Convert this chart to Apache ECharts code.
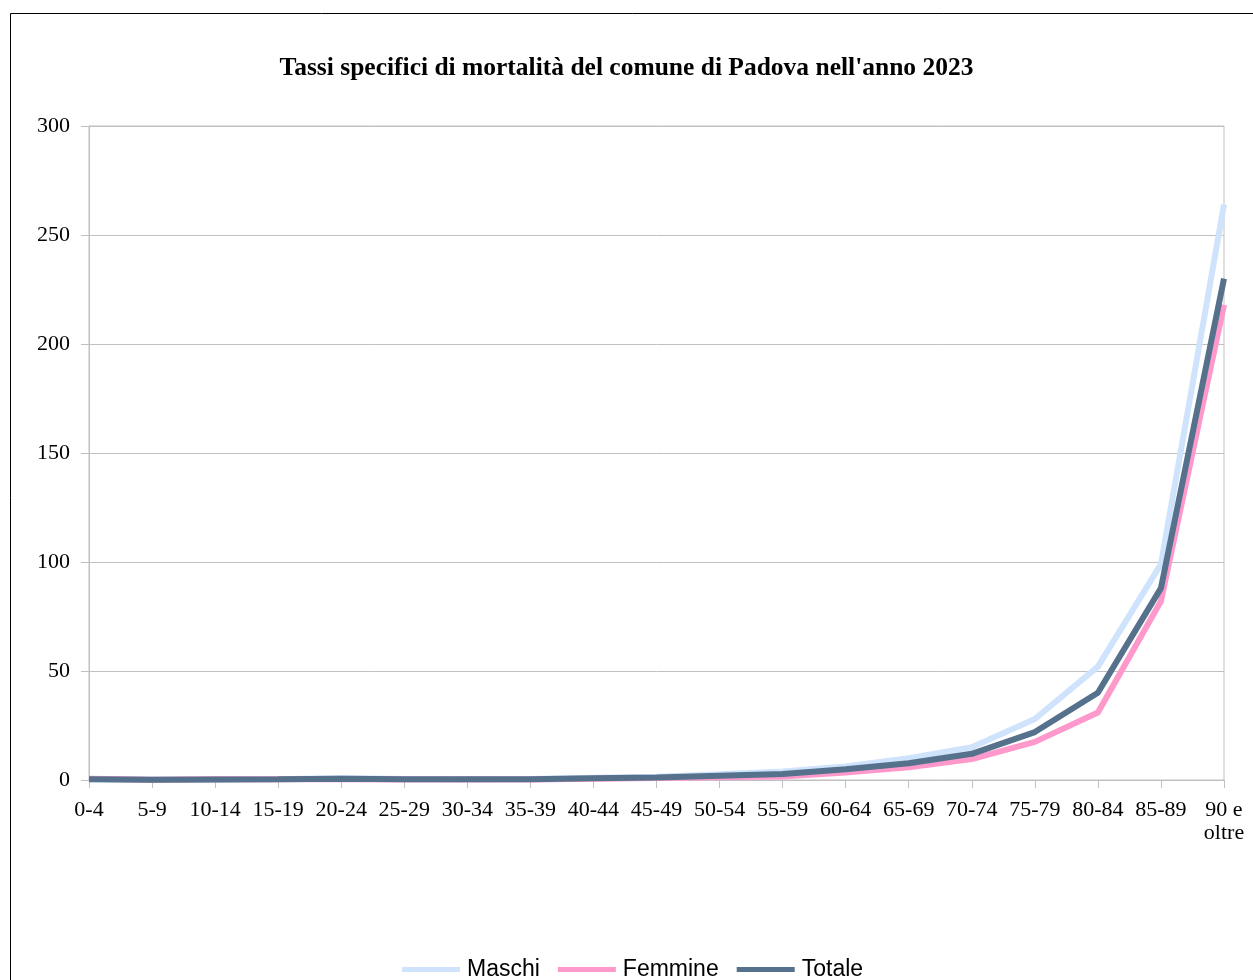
<!DOCTYPE html>
<html>
<head>
<meta charset="utf-8">
<style>
html,body{margin:0;padding:0;background:#fff;}
#chart{width:1253px;height:980px;}
</style>
<script src="https://cdn.jsdelivr.net/npm/echarts@6/dist/echarts.min.js"></script>
</head>
<body>
<div id="chart"></div>
<script>
var categories = ['0-4','5-9','10-14','15-19','20-24','25-29','30-34','35-39','40-44','45-49','50-54','55-59','60-64','65-69','70-74','75-79','80-84','85-89','90 e\noltre'];
var maschi  = [0.5,0.1,0.2,0.4,0.9,0.5,0.4,0.5,1.0,1.5,2.6,3.9,6.2,10.0,15.0,28.0,52.0,99.0,264.0];
var femmine = [0.6,0.1,0.3,0.3,0.4,0.2,0.2,0.2,0.6,0.9,1.3,1.6,3.4,5.8,9.6,17.5,31.0,82.0,218.0];
var totale  = [0.4,0.1,0.2,0.3,0.6,0.3,0.3,0.4,0.8,1.2,2.0,2.8,4.9,7.7,12.0,22.0,40.0,88.0,230.0];
var yTicks = [0,50,100,150,200,250,300];

var chart = echarts.init(document.getElementById('chart'));
var serif = '"Liberation Serif", "DejaVu Serif", serif';
var gray = '#c0c0c0';
chart.setOption({
  animation: false,
  backgroundColor: '#fff',
  graphic: [{
    type: 'rect', silent: true, z: -1,
    shape: {x: 10.5, y: 13.5, width: 1400, height: 1100},
    style: {fill: 'none', stroke: '#000', lineWidth: 1}
  }],
  title: {
    text: "Tassi specifici di mortalità del comune di Padova nell'anno 2023",
    left: 'center', top: 50,
    textStyle: {fontFamily: serif, fontWeight: 'bold', fontSize: 25.5, color: '#000'}
  },
  legend: {
    top: 953, left: 397,
    icon: 'rect', itemWidth: 58, itemHeight: 5, itemGap: 18,
    textStyle: {fontFamily: '"Liberation Sans", Arial, sans-serif', fontSize: 23, color: '#000', padding: [0,0,0,2]},
    data: ['Maschi','Femmine','Totale']
  },
  grid: {left: 89, right: 29, top: 126, bottom: 200, show: true, borderColor: gray, borderWidth: 1},
  xAxis: {
    type: 'category', data: categories, boundaryGap: false,
    axisLine: {lineStyle: {color: gray, width: 1}},
    axisTick: {show: true, length: 8, alignWithLabel: true, lineStyle: {color: gray}},
    axisLabel: {fontFamily: serif, fontSize: 22, color: '#000', margin: 19, interval: 0, lineHeight: 23},
    splitLine: {show: false}
  },
  yAxis: {
    type: 'value', min: 0, max: 300, interval: 50,
    axisLine: {show: true, lineStyle: {color: gray}},
    axisTick: {show: true, length: 8, lineStyle: {color: gray}},
    axisLabel: {fontFamily: serif, fontSize: 22, color: '#000', margin: 19,
      formatter: function(v){ return yTicks.indexOf(v) >= 0 ? String(v) : ''; }},
    splitLine: {show: true, lineStyle: {color: gray, width: 1}}
  },
  series: [
    {name: 'Maschi', type: 'line', data: maschi, symbol: 'none', lineStyle: {width: 6, color: '#cfe3fd'}, itemStyle: {color: '#cfe3fd'}},
    {name: 'Femmine', type: 'line', data: femmine, symbol: 'none', lineStyle: {width: 6, color: '#ff99cc'}, itemStyle: {color: '#ff99cc'}},
    {name: 'Totale', type: 'line', data: totale, symbol: 'none', lineStyle: {width: 6, color: '#56718b'}, itemStyle: {color: '#56718b'}}
  ]
});
</script>
</body>
</html>
